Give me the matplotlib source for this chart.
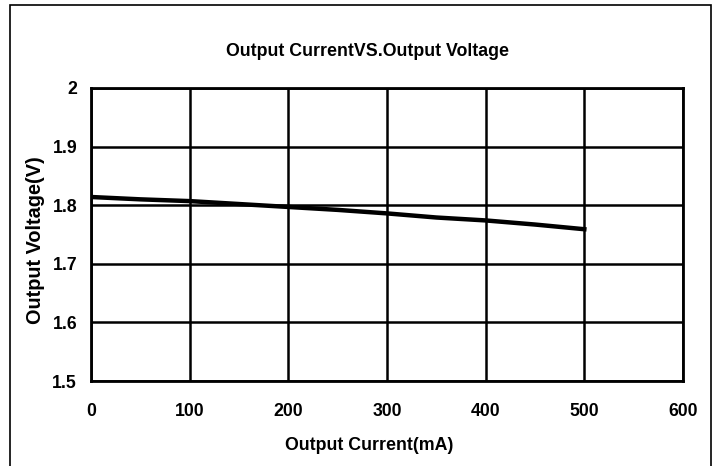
import matplotlib.pyplot as plt
from matplotlib.patches import Rectangle

current_ma = [0, 50, 100, 150, 200, 250, 300, 350, 400, 450, 500]
voltage_v = [1.814, 1.810, 1.807, 1.802, 1.797, 1.792, 1.786, 1.779, 1.774, 1.767, 1.759]

x_ticks = [0, 100, 200, 300, 400, 500, 600]
y_ticks = [1.5, 1.6, 1.7, 1.8, 1.9, 2.0]
y_labels = ['1.5', '1.6', '1.7', '1.8', '1.9', '2']

plt.rcParams['font.family'] = ['Liberation Sans', 'DejaVu Sans']
plt.rcParams['font.weight'] = 'bold'

W, H = 718, 466
fig = plt.figure(figsize=(W / 100, H / 100), dpi=100)
ax = fig.add_axes([91 / W, 1 - 381 / H, (683 - 91) / W, (381 - 88) / H])

# outer frame (bottom edge runs off the picture)
fig.patches.append(Rectangle((10 / W, -0.05), (711 - 10) / W, 1.05 - 5 / H,
                             transform=fig.transFigure, fill=False,
                             edgecolor='black', linewidth=1.2))

ax.plot(current_ma, voltage_v, color='black', linewidth=3.2)

ax.set_xlim(0, 600)
ax.set_ylim(1.5, 2.0)
ax.set_xticks(x_ticks)
ax.set_yticks(y_ticks)
ax.set_yticklabels(y_labels)
ax.tick_params(length=0, labelsize=12.7)
ax.tick_params(axis='x', pad=16)
ax.tick_params(axis='y', pad=10)
ax.grid(True, color='black', linewidth=1.8)
for s in ax.spines.values():
    s.set_linewidth(2)

fig.text(368 / W, 1 - 56 / H, 'Output CurrentVS.Output Voltage',
         ha='center', va='baseline', fontsize=12.8, fontweight='bold')
fig.text(369 / W, 1 - 450 / H, 'Output Current(mA)',
         ha='center', va='baseline', fontsize=12.8, fontweight='bold')
fig.text(36 / W, 1 - 240 / H, 'Output Voltage(V)', rotation=90,
         ha='center', va='center', fontsize=14.3, fontweight='bold')

fig.savefig('out.png', dpi=100)
